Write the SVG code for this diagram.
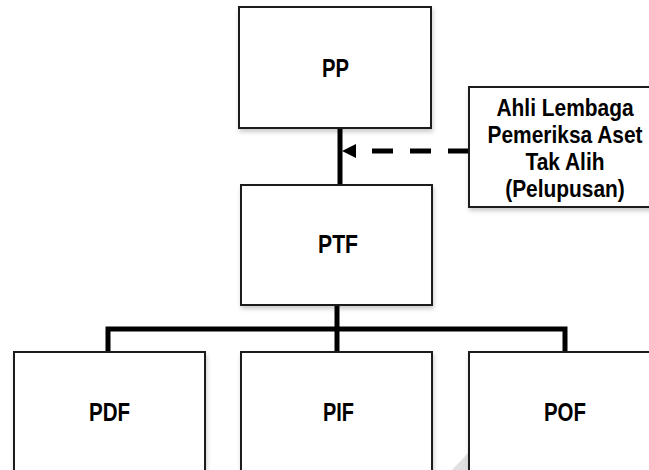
<svg xmlns="http://www.w3.org/2000/svg" width="649" height="470" viewBox="0 0 649 470">
<style>
.box{fill:#fff;stroke:#1a1a1a;stroke-width:2;filter:url(#sh)}
.lbl{font-family:"Liberation Sans",Arial,sans-serif;font-weight:bold;font-size:25px;fill:#000;text-anchor:middle}
.lbl2{font-family:"Liberation Sans",Arial,sans-serif;font-weight:bold;font-size:23px;fill:#000;text-anchor:middle}
.ln{fill:none;stroke:#000;stroke-width:5}
</style>
<defs>
<filter id="sh" x="-10%" y="-10%" width="125%" height="130%">
<feDropShadow dx="1" dy="3" stdDeviation="2" flood-color="#000" flood-opacity="0.2"/>
</filter>
</defs>
<rect width="649" height="470" fill="#fff"/>
<polygon points="452,470 468,453 468,470" fill="#e0e0e0"/>
<g id="connectors">
<line class="ln" x1="340" y1="127" x2="340" y2="186"/>
<line class="ln" x1="469" y1="151" x2="356" y2="151" stroke-dasharray="21 17"/>
<path d="M356,144 L342,151 L356,158 Z" fill="#000"/>
<line class="ln" x1="337" y1="305" x2="337" y2="329"/>
<path class="ln" d="M108,353 V329 H565 V353"/>
<line class="ln" x1="337" y1="329" x2="337" y2="353"/>
</g>
<g id="PP">
<rect class="box" x="239" y="7" width="192" height="121"/>
<text class="lbl" x="335.5" y="77" textLength="27" lengthAdjust="spacingAndGlyphs">PP</text>
</g>
<g id="PTF">
<rect class="box" x="241" y="185" width="191" height="120"/>
<text class="lbl" x="338" y="253" textLength="40" lengthAdjust="spacingAndGlyphs">PTF</text>
</g>
<g id="Ahli">
<rect class="box" x="469" y="87" width="192" height="120"/>
<g transform="translate(565,0) scale(0.91,1)">
<text class="lbl2" x="0" y="116">Ahli Lembaga</text>
<text class="lbl2" x="0" y="143">Pemeriksa Aset</text>
<text class="lbl2" x="0" y="170">Tak Alih</text>
<text class="lbl2" x="0" y="197">(Pelupusan)</text>
</g>
</g>
<g id="PDF">
<rect class="box" x="14" y="352" width="191" height="125"/>
<text class="lbl" x="109.5" y="421" textLength="41" lengthAdjust="spacingAndGlyphs">PDF</text>
</g>
<g id="PIF">
<rect class="box" x="241" y="352" width="191" height="125"/>
<text class="lbl" x="338.5" y="421" textLength="31" lengthAdjust="spacingAndGlyphs">PIF</text>
</g>
<g id="POF">
<rect class="box" x="469" y="352" width="192" height="125"/>
<text class="lbl" x="565" y="421" textLength="42" lengthAdjust="spacingAndGlyphs">POF</text>
</g>
</svg>
